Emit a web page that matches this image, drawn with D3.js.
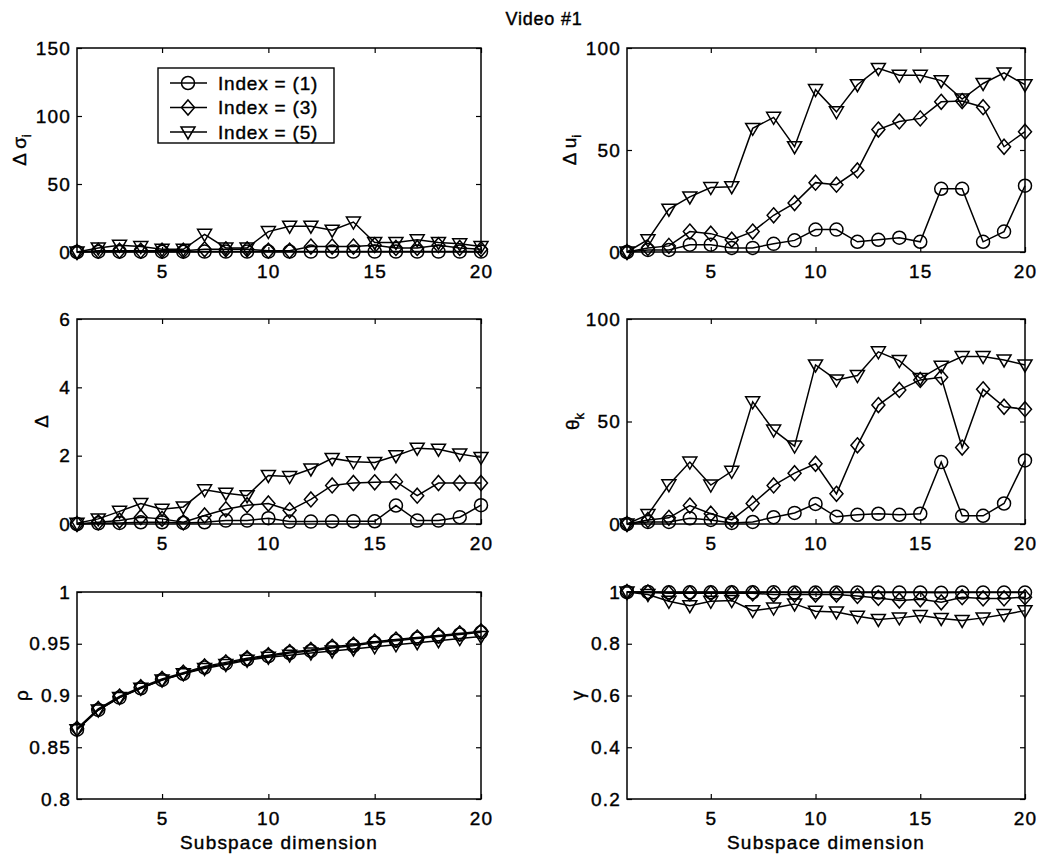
<!DOCTYPE html>
<html>
<head>
<meta charset="utf-8">
<script src="https://cdnjs.cloudflare.com/ajax/libs/d3/7.8.5/d3.min.js"></script>
<style>
  body { margin: 0; background: #fff; }
  svg { display: block; font-family: "Liberation Sans", Arial, Helvetica, sans-serif; }
  svg text { fill: #000; stroke: #000; stroke-width: 0.4; }
  .tick text { font-size: 19px; letter-spacing: 1.2px; }
  .tick line { stroke: #000; stroke-width: 1.2; }
</style>
</head>
<body>
<svg width="1048" height="859"></svg>
<script>
// subspace dimension (x categories)
var dims = [1, 2, 3, 4, 5, 6, 7, 8, 9, 10, 11, 12, 13, 14, 15, 16, 17, 18, 19, 20];
var xTicks = [5, 10, 15, 20];
var seriesNames = ['Index = (1)', 'Index = (3)', 'Index = (5)'];

// delta sigma_i
var dSigma1 = [0, 0.2, 0.2, 0.2, 0.2, 0.2, 0.3, 0.3, 0.3, 0.3, 0.3, 0.3, 0.3, 0.3, 0.3, 0.3, 0.3, 0.3, 0.3, 0.3];
var dSigma3 = [0, 1, 1, 1, 1, 1, 2, 2, 2, 1, 1, 4, 4, 4, 5, 3, 3, 5, 3, 2];
var dSigma5 = [0, 3, 5, 4, 2, 2, 13, 3, 3, 15, 19, 19, 16, 22, 7, 7, 9, 7, 6, 4];

// delta u_i
var dU1 = [0, 1, 1, 3.6, 3.6, 2, 2, 4, 5.7, 11, 11, 5, 6, 7, 5, 31, 31, 5, 10, 32.5];
var dU3 = [0, 2, 3, 10, 9, 6, 10, 18, 24, 34, 33, 40, 60, 64, 65.5, 73.6, 74, 71, 51.6, 59];
var dU5 = [0, 6, 21, 27, 31.6, 32, 60.6, 66, 51.6, 79.6, 68.7, 82, 90, 86.6, 86.6, 84, 75, 82.6, 87.8, 82];

// delta
var delta1 = [0, 0.02, 0.03, 0.05, 0.05, 0.03, 0.05, 0.1, 0.1, 0.17, 0.07, 0.07, 0.08, 0.08, 0.08, 0.54, 0.1, 0.1, 0.2, 0.55];
var delta3 = [0, 0.05, 0.1, 0.2, 0.15, 0.05, 0.25, 0.43, 0.55, 0.6, 0.4, 0.72, 1.13, 1.2, 1.22, 1.24, 0.83, 1.2, 1.2, 1.2];
var delta5 = [0.02, 0.15, 0.37, 0.6, 0.43, 0.5, 1.0, 0.9, 0.83, 1.42, 1.39, 1.61, 1.92, 1.82, 1.8, 2.0, 2.22, 2.19, 2.05, 1.95];

// theta_k
var theta1 = [0, 1, 1, 2.8, 2, 0.5, 1, 3.3, 5.4, 9.8, 3.5, 4.5, 5, 4.5, 5, 30.2, 4, 4, 10, 31];
var theta3 = [0, 2, 3, 9, 5, 2, 10, 18.8, 24.8, 29.4, 14.7, 38.4, 58, 65.4, 70.3, 71.6, 37.3, 65.7, 57.2, 56];
var theta5 = [0, 4.6, 19.1, 30.2, 19, 25.7, 59.6, 45.8, 38, 77.6, 70.3, 72.4, 84, 79.7, 71, 77, 81.7, 81.7, 80, 77.6];

// rho
var rho1 = [0.867, 0.886, 0.898, 0.907, 0.915, 0.921, 0.927, 0.931, 0.935, 0.938, 0.941, 0.943, 0.946, 0.948, 0.951, 0.953, 0.955, 0.957, 0.959, 0.961];
var rho3 = [0.868, 0.887, 0.899, 0.908, 0.916, 0.922, 0.928, 0.932, 0.936, 0.939, 0.942, 0.944, 0.947, 0.949, 0.952, 0.954, 0.956, 0.958, 0.960, 0.962];
var rho5 = [0.867, 0.886, 0.898, 0.907, 0.915, 0.921, 0.926, 0.930, 0.934, 0.937, 0.939, 0.941, 0.943, 0.945, 0.947, 0.949, 0.951, 0.953, 0.955, 0.957];

// gamma
var gamma1 = [1, 1, 0.999, 0.999, 0.999, 0.999, 0.999, 0.999, 0.998, 0.998, 0.998, 0.998, 0.998, 0.998, 0.998, 0.997, 0.998, 0.998, 0.998, 0.998];
var gamma3 = [1, 0.998, 0.995, 0.995, 0.995, 0.995, 0.995, 0.99, 0.99, 0.99, 0.99, 0.985, 0.977, 0.967, 0.972, 0.96, 0.98, 0.975, 0.975, 0.98];
var gamma5 = [1, 0.99, 0.964, 0.947, 0.964, 0.967, 0.928, 0.938, 0.954, 0.926, 0.923, 0.906, 0.894, 0.9, 0.909, 0.898, 0.89, 0.9, 0.913, 0.928];

// y ticks per panel
var ticksSigma = [0, 50, 100, 150];
var ticksU = [0, 50, 100];
var ticksDelta = [0, 2, 4, 6];
var ticksTheta = [0, 50, 100];
var ticksRho = [0.8, 0.85, 0.9, 0.95, 1];
var ticksGamma = [0.2, 0.4, 0.6, 0.8, 1];

var svg = d3.select('svg');
var markers = ['circle', 'diamond', 'triangle'];

var colL = [77, 481], colR = [627, 1025];
var rows = [[48, 252], [319, 524], [592, 799]];

var panels = [
  { cols: colL, row: rows[0], series: [dSigma1, dSigma3, dSigma5], ticks: ticksSigma, label: ['Δ σ', 'i'], labOff: 58, legend: true },
  { cols: colR, row: rows[0], series: [dU1, dU3, dU5], ticks: ticksU, label: ['Δ u', 'i'], labOff: 58 },
  { cols: colL, row: rows[1], series: [delta1, delta3, delta5], ticks: ticksDelta, label: ['Δ', ''], labOff: 36 },
  { cols: colR, row: rows[1], series: [theta1, theta3, theta5], ticks: ticksTheta, label: ['θ', 'k'], labOff: 55 },
  { cols: colL, row: rows[2], series: [rho1, rho3, rho5], ticks: ticksRho, label: ['ρ', ''], labOff: 56, xlabel: true },
  { cols: colR, row: rows[2], series: [gamma1, gamma3, gamma5], ticks: ticksGamma, label: ['γ', ''], labOff: 50, xlabel: true }
];

function markerPath(shape) {
  if (shape === 'circle') return d3.symbol(d3.symbolCircle, Math.PI * 6.5 * 6.5)();
  if (shape === 'diamond') return 'M0,-7.5L6.5,0L0,7.5L-6.5,0Z';
  return 'M-7,-5L7,-5L0,7Z';
}

var fmt = function (d) { return d3.format('~g')(d); };

panels.forEach(function (p) {
  var x = d3.scaleLinear().domain([1, 20]).range(p.cols);
  var y = d3.scaleLinear().domain(d3.extent(p.ticks)).range([p.row[1], p.row[0]]);
  var g = svg.append('g');

  // axes: ticks point inward on all four sides
  g.append('g').attr('transform', 'translate(0,' + p.row[1] + ')')
    .call(d3.axisBottom(x).tickValues(xTicks).tickSize(-5).tickSizeOuter(0).tickPadding(13).tickFormat(fmt));
  g.append('g').attr('transform', 'translate(0,' + p.row[0] + ')')
    .call(d3.axisTop(x).tickValues(xTicks).tickSize(-5).tickSizeOuter(0).tickFormat(''));
  g.append('g').attr('transform', 'translate(' + p.cols[0] + ',0)')
    .call(d3.axisLeft(y).tickValues(p.ticks).tickSize(-5).tickSizeOuter(0).tickPadding(6).tickFormat(fmt));
  g.append('g').attr('transform', 'translate(' + p.cols[1] + ',0)')
    .call(d3.axisRight(y).tickValues(p.ticks).tickSize(-5).tickSizeOuter(0).tickFormat(''));
  g.selectAll('.domain').remove();
  g.selectAll('.tick text').attr('font-family', null).attr('font-size', null);

  g.append('rect')
    .attr('x', p.cols[0]).attr('y', p.row[0])
    .attr('width', p.cols[1] - p.cols[0]).attr('height', p.row[1] - p.row[0])
    .attr('fill', 'none').attr('stroke', '#000').attr('stroke-width', 1.5);

  var line = d3.line().x(function (d, i) { return x(dims[i]); }).y(function (d) { return y(d); });

  p.series.forEach(function (s, k) {
    g.append('path').datum(s)
      .attr('d', line)
      .attr('fill', 'none').attr('stroke', '#000').attr('stroke-width', 1.5);
    g.selectAll('path.m' + k).data(s).enter().append('path')
      .attr('class', 'm' + k)
      .attr('transform', function (d, i) { return 'translate(' + x(dims[i]) + ',' + y(d) + ')'; })
      .attr('d', markerPath(markers[k]))
      .attr('fill', 'none').attr('stroke', '#000').attr('stroke-width', 1.5);
  });

  // y label (rotated, with subscript)
  var yl = g.append('text')
    .attr('transform', 'translate(' + (p.cols[0] - p.labOff) + ',' + ((p.row[0] + p.row[1]) / 2) + ') rotate(-90)')
    .attr('text-anchor', 'middle').attr('dy', '0.35em')
    .attr('font-size', 19);
  yl.append('tspan').text(p.label[0]);
  if (p.label[1]) yl.append('tspan').attr('dy', 5).attr('font-size', 13).text(p.label[1]);

  if (p.xlabel) {
    g.append('text')
      .attr('x', (p.cols[0] + p.cols[1]) / 2).attr('y', 849)
      .attr('text-anchor', 'middle').attr('font-size', 19)
      .attr('letter-spacing', 1.2)
      .text('Subspace dimension');
  }

  if (p.legend) {
    var lg = g.append('g');
    lg.append('rect').attr('x', 158).attr('y', 68).attr('width', 176).attr('height', 75)
      .attr('fill', '#fff').attr('stroke', '#000').attr('stroke-width', 1.4);
    seriesNames.forEach(function (name, k) {
      var cy = 83 + k * 24.5;
      lg.append('line').attr('x1', 170).attr('x2', 207).attr('y1', cy).attr('y2', cy)
        .attr('stroke', '#000').attr('stroke-width', 1.5);
      lg.append('path').attr('transform', 'translate(188,' + cy + ')')
        .attr('d', markerPath(markers[k]))
        .attr('fill', 'none').attr('stroke', '#000').attr('stroke-width', 1.5);
      lg.append('text').attr('x', 218).attr('y', cy).attr('dy', '0.35em')
        .attr('font-size', 19).attr('letter-spacing', 0.8).text(name);
    });
  }
});

svg.append('text')
  .attr('x', 544).attr('y', 25)
  .attr('text-anchor', 'middle').attr('font-size', 18)
  .attr('letter-spacing', 0.8)
  .text('Video #1');
</script>
</body>
</html>
